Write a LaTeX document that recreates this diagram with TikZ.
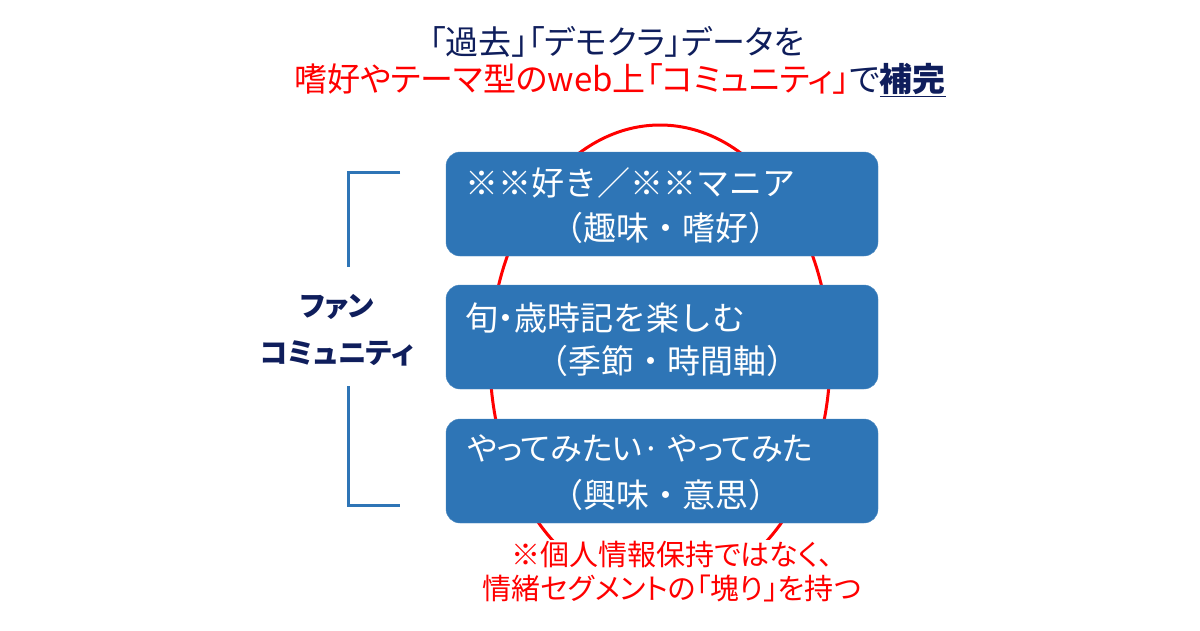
\documentclass[tikz,border=0pt]{standalone}
\usepackage{fontspec}
\setmainfont{Noto Sans CJK JP}[RawFeature=+palt]
\newfontfamily\fullwidth{Noto Sans CJK JP}
\definecolor{boxblue}{HTML}{2E75B6}
\definecolor{navy}{HTML}{0F1E5C}
\definecolor{alertred}{HTML}{FF0000}
\newcommand{\fsz}[2]{\fontsize{#1}{#2}\selectfont}
\newcommand{\thindot}{{\rmfamily ・}}
\newcommand{\fanbracket}[1][]
{\begin{scope}[#1]
	\draw  (400,172) -- (348,172) -- (348,267);
	\draw  (348,386) -- (348,505) -- (400,505);
\end{scope}
}

\begin{document}
\begin{tikzpicture}[x=1pt,y=-1pt,
	interest/.style={draw=boxblue!85!white,fill=boxblue,rounded corners=14pt,
		minimum width=432pt,minimum height=104pt,inner sep=0pt},
	boxline/.style={text=white,font=\fsz{33}{40}\fullwidth,inner sep=0pt},
	heading/.style={font=\fsz{33}{40},inner sep=0pt}]

\useasboundingbox [fill=white] (0,0) rectangle (1200,630);

% title
\node[heading,text=navy] (titleA) at (617,42) {「過去」「デモクラ」データを};
\node[heading,text=alertred] (titleB) at (620,80)
	{嗜好やテーマ型のweb上「コミュニティ」\textcolor{navy}{で\underline{\textbf{補完}}}};

% ring behind the boxes
\draw [alertred,line width=3pt] (660,359) ellipse [x radius=170,y radius=234];

\node[interest] (hobby) at (662,204) {};
\node[boxline,anchor=west] (hobbyA) at (465,183) {※※好き／※※マニア};
\node[boxline] (hobbyB) at (666,228) {（趣味・嗜好）};

\node[interest] (season) at (662,337) {};
\node[boxline,anchor=west] (seasonA) at (465,318) {旬\thindot 歳時記を楽しむ};
\node[boxline] (seasonB) at (667,361) {（季節・時間軸）};

\node[interest] (will) at (662,471) {};
\node[boxline,anchor=west,font=\fsz{32}{40}\rmfamily] (willA) at (467,449) {やってみたい· やってみた};
\node[boxline] (willB) at (666,495) {（興味・意思）};

\node[fill=white,text=alertred,align=center,font=\fsz{29}{34},inner sep=2pt] (remark) at (672,572)
	{※個人情報保持ではなく、\\情緒セグメントの「塊り」を持つ};

% side label
\node[text=navy,align=center,font=\fsz{28.5}{47}\bfseries] (fan) at (337,330) {ファン\\コミュニティ};
\fanbracket[boxblue,line width=3pt];

\end{tikzpicture}
\end{document}
